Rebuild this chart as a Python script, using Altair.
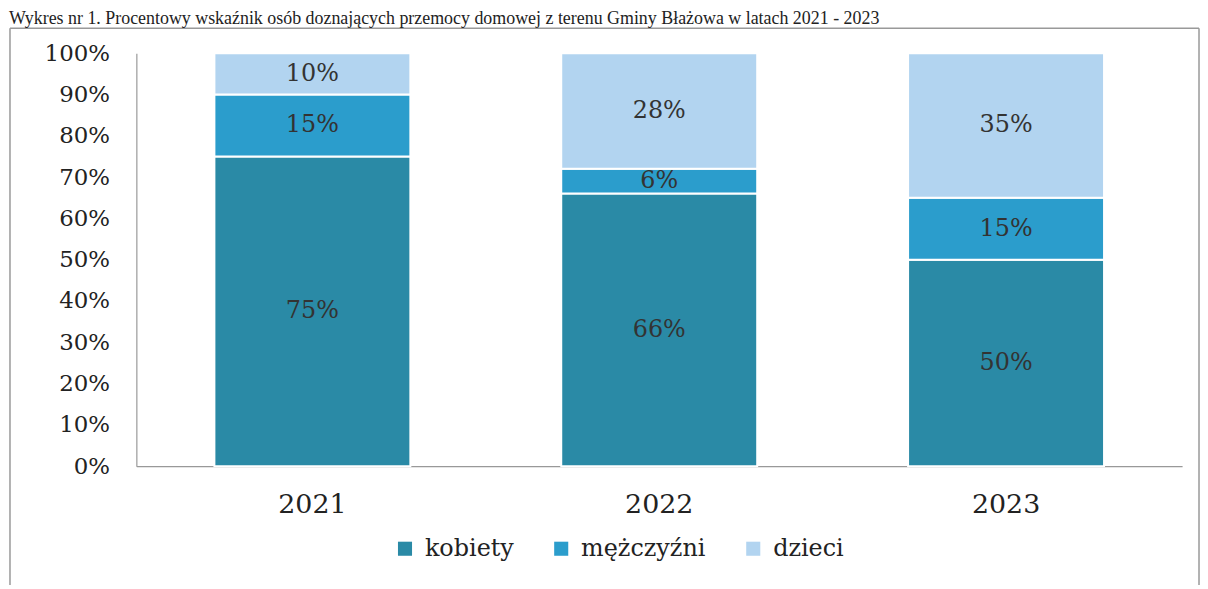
import altair as alt
import pandas as pd

years = ["2021", "2022", "2023"]
categories = ["kobiety", "mężczyźni", "dzieci"]
kobiety = [75, 66, 50]
mezczyzni = [15, 6, 15]
dzieci = [10, 28, 35]
colors = ["#2a8aa6", "#2b9dcc", "#b2d4f0"]
y_ticks = list(range(0, 101, 10))
title_text = "Wykres nr 1. Procentowy wskaźnik osób doznających przemocy domowej z terenu Gminy Błażowa w latach 2021 - 2023"

rows = []
for i, yr in enumerate(years):
    for j, (c, vals) in enumerate(zip(categories, [kobiety, mezczyzni, dzieci])):
        rows.append({"rok": yr, "kategoria": c, "wartosc": vals[i], "kolejnosc": j})
df = pd.DataFrame(rows)

base = alt.Chart(df).transform_stack(
    stack="wartosc", groupby=["rok"], as_=["y0", "y1"],
    sort=[alt.SortField("kolejnosc", order="ascending")]
).transform_calculate(
    mid="(datum.y0 + datum.y1) / 2", label="datum.wartosc + '%'"
)

xenc = alt.X("rok:N", scale=alt.Scale(paddingInner=0.435, paddingOuter=0.225),
             axis=alt.Axis(title=None, labelAngle=0, labelFont="DejaVu Serif", labelFontSize=27,
                           labelColor="#222", labelPadding=26, ticks=False, domainColor="#999",
                           domainWidth=1.2, grid=False))

bars = base.mark_bar(stroke="white", strokeWidth=2).encode(
    x=xenc,
    y=alt.Y("y0:Q", scale=alt.Scale(domain=[0, 100]),
            axis=alt.Axis(title=None, values=y_ticks, labelExpr="datum.value + '%'",
                          labelFont="DejaVu Serif", labelFontSize=23, labelColor="#222",
                          labelPadding=27, ticks=False, grid=False, domainColor="#999",
                          domainWidth=1.2)),
    y2="y1",
    color=alt.Color("kategoria:N", scale=alt.Scale(domain=categories, range=colors),
                    legend=alt.Legend(title=None, orient="none", legendX=258, legendY=486,
                                      direction="horizontal", symbolType="square",
                                      symbolSize=200, symbolStrokeWidth=0,
                                      labelFont="DejaVu Serif", labelFontSize=24,
                                      labelColor="#222", columnPadding=35, labelOffset=8)),
)

texts = base.mark_text(font="DejaVu Serif", fontSize=24, color="#333").encode(
    x=alt.X("rok:N"),
    y=alt.Y("mid:Q"),
    text="label:N",
)

frame_df = pd.DataFrame({"k": [0]})
frame_left = alt.Chart(frame_df).mark_rule(color="#999", strokeWidth=1.5).encode(
    x=alt.value(-127), y=alt.value(-25), y2=alt.value(540))
frame_top = alt.Chart(frame_df).mark_rule(color="#999", strokeWidth=1.5).encode(
    x=alt.value(-127), x2=alt.value(1068), y=alt.value(-25))
frame_right = alt.Chart(frame_df).mark_rule(color="#999", strokeWidth=1.5).encode(
    x=alt.value(1068), y=alt.value(-25), y2=alt.value(540))
title = alt.Chart(frame_df).mark_text(align="left", baseline="alphabetic",
                                      font="Liberation Serif", fontSize=18, color="#222").encode(
    x=alt.value(-128), y=alt.value(-29), text=alt.value(title_text))

chart = alt.layer(bars, texts, frame_left, frame_top, frame_right, title).properties(
    width=1051, height=415,
    autosize=alt.AutoSizeParams(type="none"),
    padding={"left": 129, "top": 44, "right": 18, "bottom": 118},
).configure_view(stroke=None)

chart.save("out.html", embed_options={"renderer": "svg", "actions": False})
